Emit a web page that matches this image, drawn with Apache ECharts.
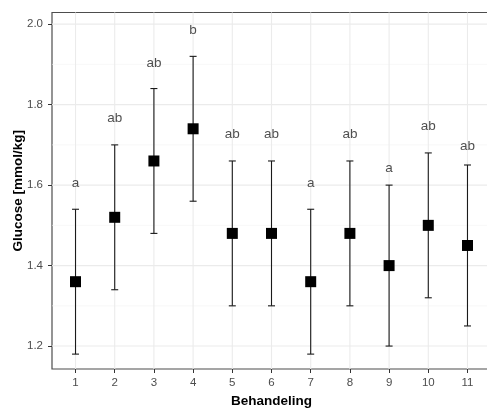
<!DOCTYPE html>
<html>
<head>
<meta charset="utf-8">
<script src="https://cdn.jsdelivr.net/npm/echarts@6/dist/echarts.min.js"></script>
<style>html,body{margin:0;padding:0;background:#fff}#c{width:487px;height:409px}</style>
</head>
<body>
<div id="c"></div>
<script>
var categories = [1,2,3,4,5,6,7,8,9,10,11];
var means  = [1.36,1.52,1.66,1.74,1.48,1.48,1.36,1.48,1.40,1.50,1.45];
var lowers = [1.18,1.34,1.48,1.56,1.30,1.30,1.18,1.30,1.20,1.32,1.25];
var uppers = [1.54,1.70,1.84,1.92,1.66,1.66,1.54,1.66,1.60,1.68,1.65];
var letters = ['a','ab','ab','b','ab','ab','a','ab','a','ab','ab'];
var letterY = [1.605,1.765,1.903,1.986,1.727,1.727,1.605,1.727,1.643,1.745,1.696];
var yTicks = [1.2,1.4,1.6,1.8,2.0];
var yMinor = [1.3,1.5,1.7,1.9];

var chart = echarts.init(document.getElementById('c'), null, {renderer:'canvas'});
var gridData = [];
yMinor.forEach(function(v){ gridData.push(['h', v, 0]); });
yTicks.forEach(function(v){ gridData.push(['h', v, 1]); });
categories.forEach(function(v){ gridData.push(['v', v, 1]); });

var font = 'Liberation Sans, Arial, sans-serif';
chart.setOption({
  animation:false,
  grid:{left:52, top:12.5, width:439, height:356.5, show:true, borderColor:'#4d4d4d', borderWidth:1.2,
        backgroundColor:'transparent', outerBoundsMode:'none', containLabel:false},
  xAxis:{type:'value', min:0.4, max:11.6,
    name:'Behandeling', nameLocation:'middle', nameGap:24,
    nameTextStyle:{fontFamily:font, fontWeight:'bold', fontSize:13.5, color:'#000'},
    axisLine:{show:false},
    axisTick:{show:true, customValues:categories, length:4, lineStyle:{color:'#333', width:1}},
    axisLabel:{customValues:categories, fontFamily:font, fontSize:11.5, color:'#4d4d4d', margin:8},
    splitLine:{show:false}},
  yAxis:{type:'value', min:1.143, max:2.029,
    name:'Glucose [mmol/kg]', nameLocation:'middle', nameGap:27, nameRotate:90, nameMoveOverlap:false,
    nameTextStyle:{fontFamily:font, fontWeight:'bold', fontSize:13.5, color:'#000'},
    axisLine:{show:false},
    axisTick:{show:true, customValues:yTicks, length:4, lineStyle:{color:'#333', width:1}},
    axisLabel:{customValues:yTicks, fontFamily:font, fontSize:11.5, color:'#4d4d4d', margin:9,
      formatter:function(v){return v.toFixed(1);}},
    splitLine:{show:false}},
  series:[
    {type:'custom', z:0, silent:true, clip:false,
     encode:{x:-1, y:-1},
     data: gridData,
     renderItem:function(params, api){
       var d = gridData[params.dataIndex];
       var cs = params.coordSys;
       var style = {stroke: d[2] ? '#ebebeb' : '#f3f3f3', lineWidth: d[2] ? 1.1 : 0.6};
       if (d[0] === 'h') {
         var p = api.coord([1, d[1]]);
         return {type:'line', shape:{x1:cs.x, y1:p[1], x2:cs.x+cs.width, y2:p[1]}, style:style};
       } else {
         var q = api.coord([d[1], 1.5]);
         return {type:'line', shape:{x1:q[0], y1:cs.y, x2:q[0], y2:cs.y+cs.height}, style:style};
       }
     }},
    {type:'custom', z:3, silent:true,
     data: categories.map(function(c,i){return [c, lowers[i], uppers[i]];}),
     renderItem:function(params, api){
       var x = api.value(0);
       var lo = api.coord([x, api.value(1)]);
       var hi = api.coord([x, api.value(2)]);
       var hw = 3.5;
       var st = {stroke:'#1a1a1a', lineWidth:1.1};
       return {type:'group', children:[
         {type:'line', shape:{x1:lo[0], y1:lo[1], x2:hi[0], y2:hi[1]}, style:st},
         {type:'line', shape:{x1:lo[0]-hw, y1:lo[1], x2:lo[0]+hw, y2:lo[1]}, style:st},
         {type:'line', shape:{x1:hi[0]-hw, y1:hi[1], x2:hi[0]+hw, y2:hi[1]}, style:st}
       ]};
     }},
    {type:'scatter', z:4, symbol:'rect', symbolSize:11, itemStyle:{color:'#000', opacity:1},
     data: categories.map(function(c,i){return [c, means[i]];})},
    {type:'scatter', z:5, symbolSize:0,
     data: categories.map(function(c,i){return {value:[c, letterY[i]], label:{formatter:letters[i]}};}),
     label:{show:true, position:'inside', fontFamily:font, fontSize:13.5, color:'#222'}}
  ]
});
</script>
</body>
</html>
